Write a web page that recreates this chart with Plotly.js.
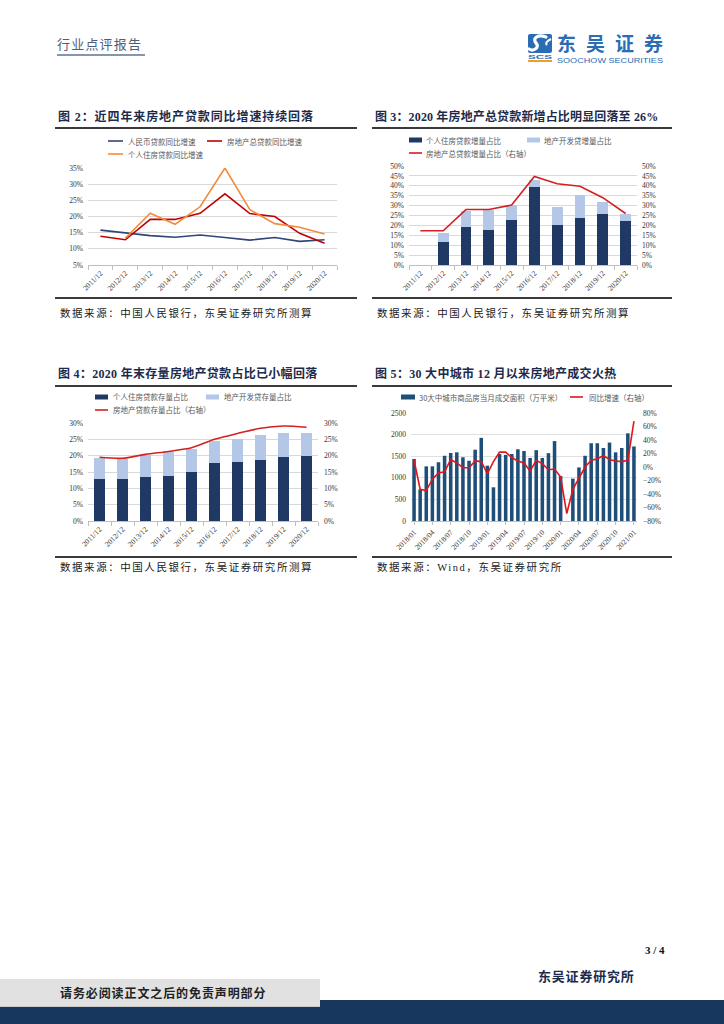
<!DOCTYPE html>
<html>
<head>
<meta charset="utf-8">
<script src="https://cdn.plot.ly/plotly-3.0.1.min.js"></script>
<style>
  html, body { margin:0; padding:0; background:#fff; }
  body { width:724px; height:1024px; position:relative; overflow:hidden; }
  .abs { position:absolute; white-space:nowrap; }
  .ttl { font-family:"Liberation Serif","Noto Sans CJK SC",serif; font-weight:bold; font-size:12px; line-height:12px; color:#1c2b4b; letter-spacing:0.9px; }
  .src { font-family:"Liberation Serif","Noto Sans CJK SC",serif; font-size:10.5px; line-height:11px; color:#222; letter-spacing:1.55px; }
  .rule { position:absolute; height:2px; background:#3a3a3a; }
  .chart { position:absolute; }
</style>
</head>
<body>

<!-- header -->
<div class="abs" style="left:57px;top:37px;font-family:'Noto Sans CJK SC';font-size:13px;line-height:14px;letter-spacing:1.2px;color:#4d5d7a;">行业点评报告</div>
<div class="abs" style="left:57px;top:54px;width:88px;height:2px;background:#8796b0;"></div>
<svg class="abs" style="left:520px;top:28px;" width="150" height="40" viewBox="0 0 150 40">
  <rect x="8" y="6" width="24" height="19" rx="2" fill="#2a6db5"/>
  <path d="M26,9 C18,6 12,10 16,15 C20,19 14,24 9,21" stroke="#fff" stroke-width="3.2" fill="none" stroke-linecap="round"/>
  <path d="M31,11 C27,13 25,15 27,17" stroke="#fff" stroke-width="2" fill="none"/>
  <text x="8" y="31" font-family="Liberation Sans" font-weight="bold" font-size="6" fill="#2a6db5" textLength="24" lengthAdjust="spacingAndGlyphs">SCS</text>
  <rect x="8" y="32" width="24" height="2" fill="#f0a020"/>
  <text x="37" y="22.5" font-family="Noto Sans CJK SC" font-weight="bold" font-size="19" fill="#2a6db5" textLength="106" lengthAdjust="spacing">东吴证券</text>
  <text x="37" y="35" font-family="Liberation Sans" font-size="7.5" fill="#2a6db5" textLength="106" lengthAdjust="spacingAndGlyphs">SOOCHOW SECURITIES</text>
</svg>

<!-- figure titles, rules and sources -->
<div class="abs ttl" style="left:58px;top:111px;">图 2：近四年来房地产贷款同比增速持续回落</div>
<div class="rule" style="left:55px;top:127px;width:302px;"></div>
<div class="rule" style="left:55px;top:297px;width:302px;"></div>
<div class="abs src" style="left:60px;top:308px;">数据来源：中国人民银行，东吴证券研究所测算</div>

<div class="abs ttl" style="left:375px;top:111px;letter-spacing:0.15px;">图 3：2020 年房地产总贷款新增占比明显回落至 26%</div>
<div class="rule" style="left:372px;top:127px;width:300px;"></div>
<div class="rule" style="left:372px;top:297px;width:300px;"></div>
<div class="abs src" style="left:377px;top:308px;">数据来源：中国人民银行，东吴证券研究所测算</div>

<div class="abs ttl" style="left:58px;top:368px;letter-spacing:0.3px;">图 4：2020 年末存量房地产贷款占比已小幅回落</div>
<div class="rule" style="left:55px;top:385px;width:302px;"></div>
<div class="rule" style="left:55px;top:556px;width:302px;"></div>
<div class="abs src" style="left:60px;top:562px;">数据来源：中国人民银行，东吴证券研究所测算</div>

<div class="abs ttl" style="left:375px;top:368px;letter-spacing:0.3px;">图 5：30 大中城市 12 月以来房地产成交火热</div>
<div class="rule" style="left:372px;top:385px;width:300px;"></div>
<div class="rule" style="left:372px;top:556px;width:300px;"></div>
<div class="abs src" style="left:377px;top:562px;">数据来源：Wind，东吴证券研究所</div>

<div id="c2" class="chart"></div>
<div id="c3" class="chart"></div>
<div id="c4" class="chart"></div>
<div id="c5" class="chart"></div>

<!-- footer -->
<div class="abs" style="left:645px;top:944px;font-family:'Liberation Serif';font-weight:bold;font-size:11px;color:#111;">3 / 4</div>
<div class="abs" style="left:538px;top:969px;font-family:'Noto Sans CJK SC';font-weight:bold;font-size:13px;line-height:14px;letter-spacing:0.8px;color:#1c2b4b;">东吴证券研究所</div>
<div class="abs" style="left:0;top:1000px;width:724px;height:24px;background:#17375e;"></div>
<div class="abs" style="left:0;top:979px;width:320px;height:27px;background:#e1e1e1;border-bottom:1px solid #c8c8c8;"></div>
<div class="abs" style="left:60px;top:986px;font-family:'Noto Sans CJK SC';font-weight:bold;font-size:12px;line-height:13px;letter-spacing:0.9px;color:#222;">请务必阅读正文之后的免责声明部分</div>

<script>
// ---------------- data ----------------
const years = ['2011/12','2012/12','2013/12','2014/12','2015/12','2016/12','2017/12','2018/12','2019/12','2020/12'];

// Figure 2 (YoY growth, %)
const rmbLoanGrowth   = [15.8, 15.0, 14.1, 13.6, 14.3, 13.5, 12.7, 13.5, 12.3, 12.8];
const reLoanGrowth    = [13.9, 12.8, 19.1, 19.1, 21.0, 27.0, 20.9, 20.0, 14.8, 11.7];
const mortgageGrowth  = [null, 13.3, 21.0, 17.6, 23.0, 35.0, 22.1, 17.8, 16.7, 14.6];

// Figure 3 (share of new loans, %)
const incMortgageShare = [null, 11.7, 19.0, 17.5, 22.5, 39.2, 20.3, 23.6, 25.8, 22.2];
const incDevShare      = [null,  4.6,  8.3, 10.5,  7.8,  3.8,  9.0, 11.8,  5.9,  3.6];
const incTotalShare    = [17.3, 17.3, 28.0, 28.0, 30.3, 44.7, 41.0, 39.8, 34.0, 26.0];

// Figure 4 (share of outstanding loans, %)
const stockMortgageShare = [12.9, 12.8, 13.5, 13.9, 15.0, 17.9, 18.2, 18.7, 19.5, 20.0];
const stockDevShare      = [ 6.4,  6.2,  6.7,  7.2,  7.1,  6.7,  7.0,  7.7,  7.5,  6.8];
const stockTotalShare    = [19.5, 19.2, 20.4, 21.3, 22.4, 25.0, 26.8, 28.4, 29.1, 28.7];

// Figure 5 (30 cities monthly sales area, 10k m2; YoY %)
const months = ['2018/01','2018/02','2018/03','2018/04','2018/05','2018/06','2018/07','2018/08','2018/09','2018/10','2018/11','2018/12',
                '2019/01','2019/02','2019/03','2019/04','2019/05','2019/06','2019/07','2019/08','2019/09','2019/10','2019/11','2019/12',
                '2020/01','2020/02','2020/03','2020/04','2020/05','2020/06','2020/07','2020/08','2020/09','2020/10','2020/11','2020/12',
                '2021/01'];
const salesArea = [1435, 730, 1265, 1265, 1360, 1510, 1575, 1590, 1475, 1395, 1650, 1925,
                   1280, 780, 1550, 1530, 1550, 1660, 1620, 1460, 1640, 1460, 1570, 1850,
                   1040, null, 980, 1240, 1510, 1800, 1800, 1690, 1815, 1590, 1690, 2030,
                   1725];
const salesYoY  = [10, -33, -35, -18, -9, -7, 11, 6, -1, -1, 9, 8,
                   -10, 8, 22, 22, 14, 9, 6, -6, 10, 5, -4, -3,
                   -15, -69, -33, -17, 0, 10, 12, 17, 11, 9, 8, 10,
                   68];
const monthTicks = ['2018/01','2018/04','2018/07','2018/10','2019/01','2019/04','2019/07','2019/10',
                    '2020/01','2020/04','2020/07','2020/10','2021/01'];

// ---------------- helpers ----------------
const TICKFONT = {family:'Liberation Serif, Times New Roman, serif', size:7.5, color:'#333'};
const LEGFONT  = {family:'Noto Sans CJK SC, sans-serif', size:7.5, color:'#595959'};

function place(id, box){
  const el = document.getElementById(id);
  el.style.left = box.left+'px'; el.style.top = box.top+'px';
  el.style.width = box.w+'px'; el.style.height = box.h+'px';
}
function pp(box, X, Y){
  const pw = box.w - box.ml - box.mr, ph = box.h - box.mt - box.mb;
  return {x:(X - box.left - box.ml)/pw, y:1 - (Y - box.top - box.mt)/ph};
}
function legLine(box, x0, x1, y, color){
  const a = pp(box, x0, y), b = pp(box, x1, y);
  return {type:'line', xref:'paper', yref:'paper', x0:a.x, x1:b.x, y0:a.y, y1:a.y, line:{color:color, width:1.6}};
}
function legRect(box, x0, x1, y, hh, color){
  const a = pp(box, x0, y-hh/2), b = pp(box, x1, y+hh/2);
  return {type:'rect', xref:'paper', yref:'paper', x0:a.x, x1:b.x, y0:b.y, y1:a.y, fillcolor:color, line:{width:0}};
}
function legText(box, x, y, text){
  const a = pp(box, x, y);
  return {xref:'paper', yref:'paper', x:a.x, y:a.y, xanchor:'left', yanchor:'middle', showarrow:false, text:text, font:LEGFONT};
}
function baseLayout(box){
  return {
    width: box.w, height: box.h,
    margin:{l:box.ml, r:box.mr, t:box.mt, b:box.mb, pad:0},
    paper_bgcolor:'rgba(0,0,0,0)', plot_bgcolor:'#fff',
    showlegend:false,
    font:{family:'Liberation Serif, serif', size:7.5, color:'#333'}
  };
}
const CFG = {staticPlot:true, displayModeBar:false};

// ---------------- Figure 2 ----------------
(function(){
  const box = {left:55, top:128, w:305, h:170, ml:33, mr:23, mt:40, mb:33};
  place('c2', box);
  const traces = [
    {x:years, y:rmbLoanGrowth, type:'scatter', mode:'lines', line:{color:'#2f4677', width:1.6}},
    {x:years, y:reLoanGrowth, type:'scatter', mode:'lines', line:{color:'#c00000', width:1.6}},
    {x:years, y:mortgageGrowth, type:'scatter', mode:'lines', line:{color:'#f28c3c', width:1.6}}
  ];
  const layout = baseLayout(box);
  layout.xaxis = {type:'category', range:[-0.5, 9.5], tickangle:-45, tickfont:TICKFONT,
    showline:true, linecolor:'#bfbfbf', linewidth:1, ticks:'outside', tickson:'boundaries', ticklen:4, tickcolor:'#bfbfbf',
    showgrid:false, zeroline:false};
  layout.yaxis = {range:[5, 35], dtick:5, ticksuffix:'%', tickfont:TICKFONT, gridcolor:'#d9d9d9', gridwidth:1,
    showline:false, zeroline:false, ticks:'', ticklabelstandoff:4};
  layout.shapes = [
    legLine(box, 108, 123, 141, '#2f4677'),
    legLine(box, 207, 222, 141, '#c00000'),
    legLine(box, 108, 123, 154, '#f28c3c')
  ];
  layout.annotations = [
    legText(box, 126, 141, '人民币贷款同比增速'),
    legText(box, 225, 141, '房地产总贷款同比增速'),
    legText(box, 126, 154, '个人住房贷款同比增速')
  ];
  Plotly.newPlot('c2', traces, layout, CFG);
})();

// ---------------- Figure 3 ----------------
(function(){
  const box = {left:370, top:128, w:300, h:170, ml:39, mr:33, mt:38, mb:33};
  place('c3', box);
  const traces = [
    {x:years, y:incMortgageShare, type:'bar', marker:{color:'#203864'}},
    {x:years, y:incDevShare, type:'bar', marker:{color:'#b4c7e7'}},
    {x:years, y:incTotalShare, type:'scatter', mode:'lines', yaxis:'y2', line:{color:'#d42020', width:1.6}}
  ];
  const layout = baseLayout(box);
  layout.barmode = 'stack';
  layout.bargap = 0.52;
  layout.xaxis = {type:'category', range:[-0.5, 9.5], tickangle:-45, tickfont:TICKFONT,
    showline:true, linecolor:'#bfbfbf', ticks:'outside', tickson:'boundaries', ticklen:4, tickcolor:'#bfbfbf',
    showgrid:false, zeroline:false};
  layout.yaxis = {range:[0, 50], dtick:5, ticksuffix:'%', tickfont:TICKFONT, gridcolor:'#d9d9d9',
    showline:false, zeroline:false, ticklabelstandoff:4};
  layout.yaxis2 = {range:[0, 50], dtick:5, ticksuffix:'%', tickfont:TICKFONT, overlaying:'y', side:'right',
    showgrid:false, showline:false, zeroline:false, ticklabelstandoff:4};
  layout.shapes = [
    legRect(box, 409, 422, 140, 5, '#203864'),
    legRect(box, 527, 540, 140, 5, '#b4c7e7'),
    legLine(box, 409, 422, 153, '#d42020')
  ];
  layout.annotations = [
    legText(box, 424, 140, '个人住房贷款增量占比'),
    legText(box, 542, 140, '地产开发贷增量占比'),
    legText(box, 424, 153, '房地产总贷款增量占比（右轴）')
  ];
  Plotly.newPlot('c3', traces, layout, CFG);
})();

// ---------------- Figure 4 ----------------
(function(){
  const box = {left:55, top:386, w:305, h:170, ml:33, mr:42, mt:37, mb:35};
  place('c4', box);
  const traces = [
    {x:years, y:stockMortgageShare, type:'bar', marker:{color:'#203864'}},
    {x:years, y:stockDevShare, type:'bar', marker:{color:'#b4c7e7'}},
    {x:years, y:stockTotalShare, type:'scatter', mode:'lines', yaxis:'y2', line:{color:'#d42020', width:1.6, shape:'spline', smoothing:0.8}}
  ];
  const layout = baseLayout(box);
  layout.barmode = 'stack';
  layout.bargap = 0.5;
  layout.xaxis = {type:'category', range:[-0.5, 9.5], tickangle:-45, tickfont:TICKFONT,
    showline:true, linecolor:'#bfbfbf', ticks:'outside', tickson:'boundaries', ticklen:4, tickcolor:'#bfbfbf',
    showgrid:false, zeroline:false};
  layout.yaxis = {range:[0, 30], dtick:5, ticksuffix:'%', tickfont:TICKFONT, gridcolor:'#d9d9d9',
    showline:false, zeroline:false, ticklabelstandoff:4};
  layout.yaxis2 = {range:[0, 30], dtick:5, ticksuffix:'%', tickfont:TICKFONT, overlaying:'y', side:'right',
    showgrid:false, showline:false, zeroline:false, ticklabelstandoff:5};
  layout.shapes = [
    legRect(box, 95, 108, 397, 5, '#203864'),
    legRect(box, 206, 219, 397, 5, '#b4c7e7'),
    legLine(box, 95, 108, 410, '#d42020')
  ];
  layout.annotations = [
    legText(box, 111, 397, '个人住房贷款存量占比'),
    legText(box, 222, 397, '地产开发贷存量占比'),
    legText(box, 111, 410, '房地产贷款存量占比（右轴）')
  ];
  Plotly.newPlot('c4', traces, layout, CFG);
})();

// ---------------- Figure 5 ----------------
(function(){
  const box = {left:370, top:386, w:300, h:170, ml:41, mr:33, mt:27, mb:35};
  place('c5', box);
  const traces = [
    {x:months, y:salesArea, type:'bar', marker:{color:'#1f4e79'}},
    {x:months, y:salesYoY, type:'scatter', mode:'lines', yaxis:'y2', line:{color:'#e3151a', width:1.6}}
  ];
  const layout = baseLayout(box);
  layout.bargap = 0.42;
  layout.xaxis = {type:'category', range:[-0.5, 36.5], tickangle:-45, tickfont:TICKFONT,
    tickmode:'array', tickvals:monthTicks, ticktext:monthTicks,
    showline:true, linecolor:'#bfbfbf', ticks:'outside', ticklen:3, tickcolor:'#bfbfbf',
    showgrid:false, zeroline:false};
  layout.yaxis = {range:[0, 2500], dtick:500, tickfont:TICKFONT, gridcolor:'#e0e0e0',
    showline:false, zeroline:false, ticklabelstandoff:4};
  layout.yaxis2 = {range:[-80, 80], dtick:20, ticksuffix:'%', tickfont:TICKFONT, overlaying:'y', side:'right',
    showgrid:false, showline:false, zeroline:false, ticklabelstandoff:5};
  layout.shapes = [
    legRect(box, 401, 415, 397, 5, '#1f4e79'),
    legLine(box, 570, 583, 397, '#e3151a')
  ];
  layout.annotations = [
    legText(box, 417, 397, '30大中城市商品房当月成交面积（万平米）'),
    legText(box, 587, 397, '同比增速（右轴）')
  ];
  Plotly.newPlot('c5', traces, layout, CFG);
})();
</script>
</body>
</html>
